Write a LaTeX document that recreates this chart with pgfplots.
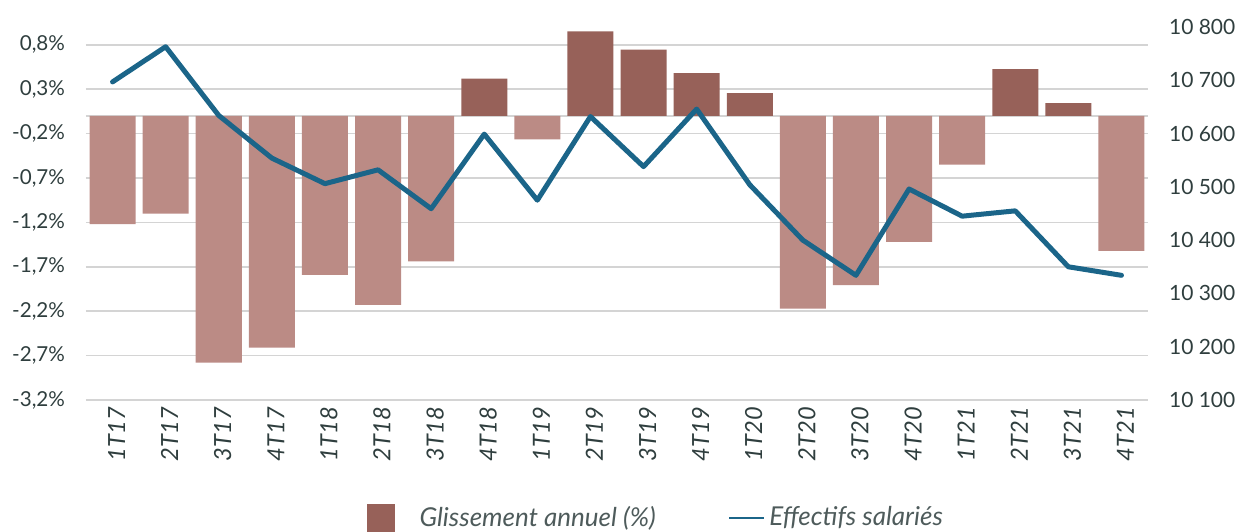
\documentclass[border=0pt]{standalone}
\usepackage{pgfplots}
\pgfplotsset{compat=1.18}
\usepackage{fontspec}
\setmainfont{Lato}
\definecolor{darkbar}{RGB}{151,97,89}
\definecolor{lightbar}{RGB}{187,139,133}
\definecolor{linec}{RGB}{27,101,137}
\definecolor{txt}{RGB}{47,62,62}
\definecolor{gridc}{RGB}{212,212,212}
\begin{document}
\begin{tikzpicture}
\begin{axis}[
  at={(0,0)}, anchor=south west, scale only axis,
  width=531pt, height=186.5pt,
  xmin=-0.5, xmax=19.5, ymin=-3.2, ymax=1.0,
  axis line style={draw=none}, major tick length=0pt,
  ytick={-3.2,-2.7,-2.2,-1.7,-1.2,-0.7,-0.2,0.3,0.8},
  yticklabels={{-3,2\%},{-2,7\%},{-2,2\%},{-1,7\%},{-1,2\%},{-0,7\%},{-0,2\%},{0,3\%},{0,8\%}},
  ymajorgrids, grid style={gridc, line width=0.8pt},
  extra y ticks={0}, extra y tick labels={}, extra y tick style={grid=major},
  xtick={0,...,19},
  xticklabels={1T17,2T17,3T17,4T17,1T18,2T18,3T18,4T18,1T19,2T19,3T19,4T19,1T20,2T20,3T20,4T20,1T21,2T21,3T21,4T21},
  x tick label style={rotate=90, anchor=east, yshift=-2pt, font=\itshape\fontsize{11.8}{13}\selectfont, text=txt},
  y tick label style={font=\fontsize{10.3}{12}\selectfont, text=txt, xshift=-7pt},
  ybar, bar width=23pt, bar shift=0pt,
  clip=false,
]
\addplot[fill=lightbar, draw=none] coordinates {
 (0,-1.22) (1,-1.10) (2,-2.78) (3,-2.61) (4,-1.79) (5,-2.13) (6,-1.64)
 (8,-0.265) (13,-2.17) (14,-1.906) (15,-1.42) (16,-0.55) (19,-1.52)};
\addplot[fill=darkbar, draw=none] coordinates {
 (7,0.42) (9,0.95) (10,0.746) (11,0.48) (12,0.255) (17,0.525) (18,0.143)};
\end{axis}
\begin{axis}[
  at={(0,0)}, anchor=south west, scale only axis,
  width=531pt, height=186.5pt,
  xmin=-0.5, xmax=19.5, ymin=10100, ymax=10800,
  axis y line*=right, axis x line=none,
  axis line style={draw=none}, major tick length=0pt,
  scaled y ticks=false,
  ytick={10100,10200,10300,10400,10500,10600,10700,10800},
  yticklabels={10 100,10 200,10 300,10 400,10 500,10 600,10 700,10 800},
  y tick label style={font=\fontsize{10.5}{12}\selectfont, text=txt, xshift=7pt},
  clip=false,
  legend style={at={(0.5377,-0.316)}, anchor=center, draw=none, fill=none,
    legend columns=2, font=\itshape\fontsize{13}{15}\selectfont, text=txt!85!white,
    /tikz/every even column/.append style={column sep=34pt}},
]
\addlegendimage{legend image code/.code={\fill[darkbar] (0pt,-6.75pt) rectangle (13.5pt,6.75pt); \path[draw=none] (0pt,0pt) -- (24pt,0pt);}}
\addlegendentry{Glissement annuel (\%)}
\addplot[linec, line width=2.5pt, line join=round, line cap=round,
  legend image code/.code={\draw[linec, line width=1.3pt, line cap=butt] (0pt,0pt) -- (17.5pt,0pt);}]
 coordinates {
 (0,10697) (1,10763) (2,10634) (3,10554) (4,10506) (5,10532) (6,10459)
 (7,10599) (8,10475) (9,10632) (10,10538) (11,10646) (12,10504) (13,10400)
 (14,10334) (15,10496) (16,10445) (17,10455) (18,10350) (19,10334)};
\addlegendentry{Effectifs salariés}
\end{axis}
\pgfresetboundingbox
\path[use as bounding box] (-43pt,-65.5pt) rectangle (576pt,200pt);
\end{tikzpicture}
\end{document}
